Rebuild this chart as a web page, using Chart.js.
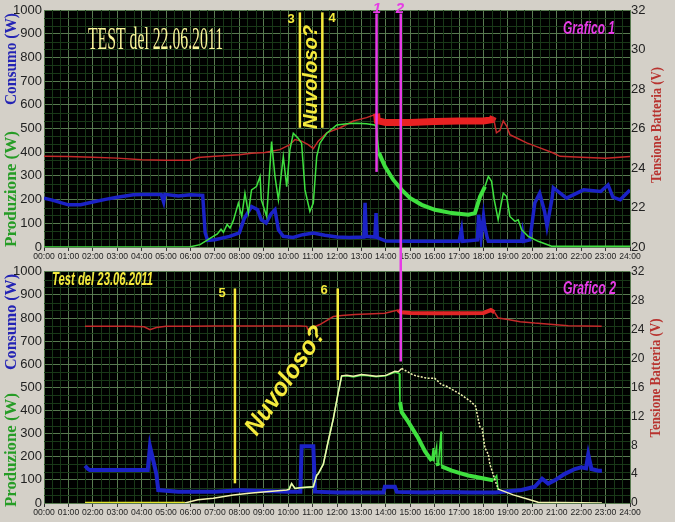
<!DOCTYPE html>
<html><head><meta charset="utf-8">
<script src="https://cdn.jsdelivr.net/npm/chart.js@4.4.1/dist/chart.umd.min.js"></script>
<style>
html,body{margin:0;padding:0;background:#d4d0c8;width:675px;height:522px;overflow:hidden;}
#w1{position:absolute;left:0;top:0;width:675px;height:262px;}
#w2{position:absolute;left:0;top:262px;width:675px;height:260px;}
</style></head><body>
<div id="w1"><canvas id="c1"></canvas></div>
<div id="w2"><canvas id="c2"></canvas></div>
<script>
// ---- tick labels ----
const hourLabels = ['00:00','01:00','02:00','03:00','04:00','05:00','06:00','07:00','08:00','09:00','10:00','11:00','12:00','13:00','14:00','15:00','16:00','17:00','18:00','19:00','20:00','21:00','22:00','23:00','24:00'];

// ---- Grafico 1 (22.06.2011) ----
const g1VoltHours = [0,1,2,3,4,5,6,6.3,7,8,8.5,9.05,9.66,10.07,10.28,10.55,10.82,11.03,11.23,11.58,12.13,12.67,13.21,13.55,13.62,13.65,14,15,16,17,18,18.35,18.4,18.53,18.67,18.81,18.95,19.08,19.36,19.77,20.31,20.86,21.13,22,23,24];
const g1Volt      = [24.59,24.58,24.55,24.5,24.42,24.39,24.39,24.53,24.6,24.67,24.75,24.78,24.93,25.18,25.44,25.36,25.18,24.98,25.36,25.78,26.04,26.38,26.55,26.7,26.75,26.4,26.3,26.3,26.35,26.38,26.38,26.45,26.6,25.78,25.9,26.38,26.12,25.69,25.52,25.27,25.02,24.76,24.59,24.54,24.5,24.58];

const g1ProdHours = [0,5.95,6.39,6.93,7.1,7.25,7.35,7.5,7.62,7.75,7.96,8.1,8.23,8.37,8.5,8.7,8.85,8.9,9.12,9.32,9.46,9.6,9.8,9.94,10.07,10.21,10.41,10.55,10.69,10.89,11.03,11.17,11.3,11.58,11.99,12.4,12.8,13.2,13.55,13.62,13.66,13.72,13.96,14.3,14.65,15.0,15.47,16.01,16.7,17.38,17.65,17.86,18.06,18.2,18.33,18.44,18.6,18.81,18.95,19.08,19.29,19.42,19.56,19.83,20.24,20.79,24];
const g1Prod      = [0,0,10,45,55,75,62,95,80,110,185,129,227,143,241,255,298,199,129,445,298,199,382,255,410,480,459,438,241,150,185,382,438,480,515,520,522,520,515,500,452,397,340,284,241,206,178,157,143,136,143,213,255,298,277,199,115,227,213,129,108,115,73,45,24,3,3];

const g1ConsHours = [0,0.3,1.0,1.5,2.0,2.57,3.0,3.66,4.0,4.8,4.9,4.95,5.5,6.0,6.5,6.6,6.7,7.0,7.6,8.0,8.2,8.5,8.75,8.9,9.1,9.3,9.46,9.6,9.8,10.2,10.6,11.03,11.5,12.0,12.5,13.1,13.15,13.2,13.55,13.6,13.65,14.0,15.0,16.0,17.0,17.1,17.15,17.75,17.8,17.9,18.0,18.05,18.15,18.2,19.0,19.55,19.6,19.65,19.9,20.1,20.3,20.5,20.6,20.8,20.86,21.4,22.1,22.8,23.1,23.3,23.6,24];
const g1Cons      = [206,199,178,178,190,202,210,220,222,222,190,222,215,220,218,60,28,31,45,60,120,171,157,115,101,140,157,73,45,40,52,59,50,42,40,42,186,45,42,143,40,25,24,24,24,73,24,30,136,40,130,87,40,24,24,24,59,24,30,186,227,150,87,200,250,206,241,234,262,210,199,241];

// ---- Grafico 2 (23.06.2011) ----
const g2VoltHours = [1.68,2.5,3.5,4.1,4.34,4.6,5.0,6,7,8,9,10,10.5,10.76,10.8,11.3,11.85,12.2,12.73,13.5,13.96,14.5,14.6,15,16,17,18,18.3,18.45,18.6,19.0,19.5,20.1,21.47,22.84];
const g2Volt      = [24.45,24.45,24.45,24.4,24.0,24.3,24.45,24.45,24.5,24.5,24.5,24.5,24.5,24.45,24.0,24.7,25.8,25.95,26.1,26.2,26.27,26.7,26.4,26.3,26.25,26.25,26.3,26.7,26.4,25.6,25.4,25.1,24.9,24.55,24.45];

const g2RefHours = [1.68,5.77,6.3,6.93,7.75,8.4,9.1,9.94,10.05,10.14,10.28,10.48,11.03,11.17,11.23,11.44,11.64,11.85,12.05,12.19,12.4,12.67,13.0,13.28,13.6,14.0,14.37,14.51,14.65,14.71,15.12,15.33,15.67,16.0,16.28,16.49,17.03,17.44,17.67,17.85,17.94,18.06,18.2,18.26,18.47,18.6,19.22,19.9,20.24,22.85];
const g2Ref      = [0,0,14,21,35,42,49,56,60,84,63,66,70,120,126,168,267,365,477,550,552,548,556,553,548,552,570,568,582,578,554,548,540,540,512,505,472,442,420,330,323,238,210,168,100,60,35,14,3,0];

const g2ProdHours = [10.0,10.14,10.28,10.48,11.03,11.17,11.23,11.44,11.64,11.85,12.05,12.19,12.4,12.67,13.0,13.28,13.6,14.0,14.37,14.55,14.58,14.65,14.92,15.33,15.6,15.88,15.94,15.96,16.08,16.1,16.15,16.26,16.28,16.7,17.0,17.38,17.8,18.06,18.4,18.54,18.6];
const g2Prod      = [56,84,63,66,70,120,126,168,267,365,477,548,550,545,553,550,546,550,565,560,436,393,351,280,224,182,238,180,245,175,161,309,158,140,130,119,110,105,98,119,56];
const g2ProdSpikeHours = [15.94,16.08,16.26];

const g2ConsHours = [1.68,1.8,1.87,4.25,4.34,4.48,4.6,4.68,5.5,7.0,8.0,9.0,10.0,10.5,10.55,11.03,11.1,12.0,13.0,13.9,13.96,14.37,14.45,15.5,16.5,17.5,18.5,19.56,20.1,20.4,20.65,20.92,21.33,21.74,22.0,22.2,22.29,22.42,22.7,22.85];
const g2Cons      = [161,147,143,143,245,182,126,56,49,49,55,52,49,49,245,245,49,45,45,45,70,70,48,45,48,45,45,56,70,105,84,98,126,147,154,150,210,147,140,140];

// ---- helpers ----
const pts = (xs, ys) => xs.map((x, i) => ({x: x, y: ys[i]}));
const YEL = '#f5ea3c', MAG = '#e63ce6';
const SANS = '"Liberation Sans", Arial, sans-serif';
const SERIF = '"Liberation Serif", "Times New Roman", serif';

function txt(ctx, s, x, y, o) {
  ctx.save();
  ctx.translate(x, y);
  ctx.rotate((o.rot || 0) * Math.PI / 180);
  ctx.font = o.font; ctx.fillStyle = o.color;
  ctx.textAlign = 'center'; ctx.textBaseline = 'middle';
  if (o.width) { const w = ctx.measureText(s).width; ctx.scale(o.width / w, 1); }
  ctx.fillText(s, 0, 0);
  ctx.restore();
}

function makePlugin(cfg) {
  return {
    id: 'deco' + cfg.id,
    beforeDraw(chart) {
      const a = chart.chartArea, ctx = chart.ctx;
      ctx.save(); ctx.fillStyle = '#000'; ctx.fillRect(a.left, a.top, a.right - a.left, a.bottom - a.top); ctx.restore();
    },
    beforeDatasetsDraw(chart) {
      const a = chart.chartArea, ctx = chart.ctx, sx = chart.scales.x, sy = chart.scales.yW;
      ctx.save(); ctx.strokeStyle = '#193818'; ctx.lineWidth = 1;
      for (let k = 1; k < 72; k++) {
        if (k % 3 === 0) continue;
        const px = Math.round(sx.getPixelForValue(k / 3)) + 0.5;
        ctx.beginPath(); ctx.moveTo(px, a.top); ctx.lineTo(px, a.bottom); ctx.stroke();
      }
      for (let k = 1; k < 30; k++) {
        if (k % 3 === 0) continue;
        const py = Math.round(sy.getPixelForValue(k * 100 / 3)) + 0.5;
        ctx.beginPath(); ctx.moveTo(a.left, py); ctx.lineTo(a.right, py); ctx.stroke();
      }
      ctx.restore();
    },
    afterDatasetsDraw(chart) {
      const ctx = chart.ctx, sx = chart.scales.x, sy = chart.scales.yW;
      ctx.save();
      cfg.markers.forEach(m => {
        const px = sx.getPixelForValue(m.hour);
        const y0 = m.from === 'canvasTop' ? 0 : sy.getPixelForValue(m.from);
        const y1 = m.to === 'canvasBottom' ? chart.height : sy.getPixelForValue(m.to);
        ctx.strokeStyle = m.color; ctx.lineWidth = m.lw;
        ctx.beginPath(); ctx.moveTo(px, y0); ctx.lineTo(px, y1); ctx.stroke();
      });
      ctx.restore();
    },
    afterDraw(chart) {
      const ctx = chart.ctx;
      cfg.texts.forEach(t => txt(ctx, t.s, t.x, t.y - cfg.offY, t));
    }
  };
}

function makeChart(id, datasets, vMin, vMax, vFont, xH, padTop, plugin) {
  return new Chart(document.getElementById(id), {
    type: 'line',
    data: { datasets: datasets },
    options: {
      responsive: true, maintainAspectRatio: false, animation: false, events: [],
      layout: { padding: { top: padTop, left: 0, right: 0, bottom: 0 }, autoPadding: false },
      plugins: { legend: { display: false }, tooltip: { enabled: false } },
      elements: { point: { radius: 0 }, line: { tension: 0 } },
      scales: {
        x: {
          type: 'linear', min: 0, max: 24,
          afterFit: s => { s.height = xH; },
          border: { display: false },
          grid: { color: '#587a50', tickColor: '#333', tickLength: 4, lineWidth: 1 },
          ticks: { stepSize: 1, autoSkip: false, maxRotation: 0, padding: 0, color: '#222',
                   font: { family: SANS, size: 8.6 }, callback: v => hourLabels[v] }
        },
        yW: {
          position: 'left', min: 0, max: 1000,
          afterFit: s => { s.width = 44; },
          border: { display: false },
          grid: { color: '#587a50', drawTicks: false },
          ticks: { stepSize: 100, padding: 2, color: '#222', font: { family: SANS, size: 13 }, callback: v => String(v) }
        },
        yV: {
          position: 'right', min: vMin, max: vMax,
          afterFit: s => { s.width = 45; },
          border: { display: false },
          grid: { drawOnChartArea: false, drawTicks: false },
          ticks: { stepSize: 2, padding: 1, color: '#222', font: { family: SANS, size: vFont }, callback: v => String(v) }
        }
      }
    },
    plugins: [plugin]
  });
}

const inBand = (c, a, b) => c.p0.parsed.x >= a && c.p1.parsed.x <= b;
const touchesSpike = c => g2ProdSpikeHours.includes(c.p0.parsed.x) || g2ProdSpikeHours.includes(c.p1.parsed.x);

// ---- chart 1 ----
makeChart('c1', [
  { data: pts(g1ConsHours, g1Cons), yAxisID: 'yW', borderColor: '#1b22c6', borderWidth: 3.5, order: 3 },
  { data: pts(g1VoltHours, g1Volt), yAxisID: 'yV', borderColor: '#d42a2a', borderWidth: 1.5, order: 2,
    segment: { borderWidth: c => inBand(c, 13.62, 18.4) ? 7 : 1.5, borderColor: c => inBand(c, 13.62, 18.4) ? '#e82222' : '#c42a2a' } },
  { data: pts(g1ProdHours, g1Prod), yAxisID: 'yW', borderColor: '#3fe03f', borderWidth: 1.5, order: 1,
    segment: { borderWidth: c => inBand(c, 13.7, 18.1) ? 4 : 1.5 } }
], 20, 32, 13, 15, 10, makePlugin({
  id: 1, offY: 0,
  markers: [
    { hour: 10.48, from: 990, to: 503, color: YEL, lw: 2.5 },
    { hour: 11.40, from: 990, to: 503, color: YEL, lw: 2.5 },
    { hour: 13.62, from: 985, to: 317, color: MAG, lw: 2.5 },
    { hour: 14.61, from: 985, to: 'canvasBottom', color: MAG, lw: 2.5 }
  ],
  texts: [
    { s: 'Consumo (W)', x: 12, y: 59, rot: -90, font: 'bold 16px ' + SERIF, color: '#2424b4', width: 92 },
    { s: 'Produzione (W)', x: 12, y: 189, rot: -90, font: 'bold 16px ' + SERIF, color: '#269c26', width: 116 },
    { s: 'Tensione Batteria (V)', x: 657, y: 125, rot: -90, font: 'bold 15px ' + SERIF, color: '#b8332f', width: 116 },
    { s: 'TEST del 22.06.2011', x: 155.5, y: 41, font: '31px ' + SERIF, color: '#fbf59a', width: 135 },
    { s: 'Grafico 1', x: 589, y: 29, font: 'italic bold 18px ' + SANS, color: MAG, width: 52 },
    { s: 'Nuvoloso?', x: 311.5, y: 77, rot: -90, font: 'italic bold 20px ' + SANS, color: YEL, width: 104 },
    { s: '3', x: 291, y: 19, font: 'bold 13px ' + SANS, color: YEL },
    { s: '4', x: 332, y: 18, font: 'bold 13px ' + SANS, color: YEL },
    { s: '1', x: 377, y: 8.5, font: 'italic bold 15px ' + SANS, color: MAG },
    { s: '2', x: 400, y: 8.5, font: 'italic bold 15px ' + SANS, color: MAG }
  ]
}));

// ---- chart 2 ----
makeChart('c2', [
  { data: pts(g2ConsHours, g2Cons), yAxisID: 'yW', borderColor: '#1b22c6', borderWidth: 4, order: 4 },
  { data: pts(g2ProdHours, g2Prod), yAxisID: 'yW', borderColor: '#3fe03f', borderWidth: 1.5, order: 3,
    segment: { borderWidth: c => (inBand(c, 14.58, 18.5) && !touchesSpike(c)) ? 4 : 1.5 } },
  { data: pts(g2RefHours, g2Ref), yAxisID: 'yW', borderColor: '#f2f2b0', borderWidth: 1.5, order: 2,
    segment: {
      borderColor: c => (c.p0.parsed.y === 0 && c.p1.parsed.y === 0) ? '#e4e42e' : '#f2f2b0',
      borderWidth: c => (c.p0.parsed.y === 0 && c.p1.parsed.y === 0) ? 2.5 : 1.5,
      borderDash: c => (c.p0.parsed.x >= 14.65 && c.p1.parsed.x <= 18.7) ? [2, 1.5] : undefined
    } },
  { data: pts(g2VoltHours, g2Volt), yAxisID: 'yV', borderColor: '#c42a2a', borderWidth: 1.5, order: 1,
    segment: { borderWidth: c => inBand(c, 14.5, 18.45) ? 4 : 1.5, borderColor: c => inBand(c, 14.5, 18.45) ? '#e02626' : '#c42a2a' } }
], 0, 32, 12, 19, 4, makePlugin({
  id: 2, offY: 262,
  markers: [
    { hour: 7.82, from: 928, to: 85, color: YEL, lw: 2.5 },
    { hour: 12.03, from: 928, to: 532, color: YEL, lw: 2.5 },
    { hour: 14.61, from: 'canvasTop', to: 612, color: MAG, lw: 2.5 }
  ],
  texts: [
    { s: 'Consumo (W)', x: 12, y: 322, rot: -90, font: 'bold 16px ' + SERIF, color: '#2424b4', width: 96 },
    { s: 'Produzione (W)', x: 12, y: 450, rot: -90, font: 'bold 16px ' + SERIF, color: '#269c26', width: 114 },
    { s: 'Tensione Batteria (V)', x: 656, y: 378, rot: -90, font: 'bold 15px ' + SERIF, color: '#b8332f', width: 119 },
    { s: 'Test del 23.06.2011', x: 102.5, y: 280, font: 'italic bold 19px ' + SANS, color: YEL, width: 101 },
    { s: 'Grafico 2', x: 589.5, y: 289.5, font: 'italic bold 18px ' + SANS, color: MAG, width: 53 },
    { s: 'Nuvoloso?', x: 286, y: 381, rot: -56, font: 'italic bold 25px ' + SANS, color: YEL, width: 125 },
    { s: '5', x: 222, y: 293, font: 'bold 13px ' + SANS, color: YEL },
    { s: '6', x: 324, y: 290, font: 'bold 13px ' + SANS, color: YEL }
  ]
}));
</script>
</body></html>
